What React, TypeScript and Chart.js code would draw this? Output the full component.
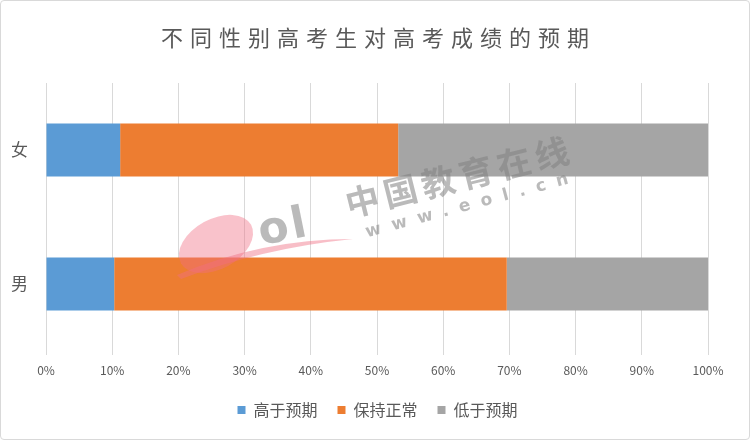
import React, { useEffect, useRef } from "react";
import { Chart, registerables } from "chart.js";

Chart.register(...registerables);

const titleText = "不同性别高考生对高考成绩的预期";
const categories = ["女", "男"];
const seriesNames = ["高于预期", "保持正常", "低于预期"];
const higherValues = [11.2, 10.3];
const normalValues = [42.0, 59.3];
const lowerValues = [46.8, 30.4];
const seriesColors = ["#5B9BD5", "#ED7D31", "#A5A5A5"];
const xTickMax = 100;
const xTickStep = 10;
const watermarkName = "中国教育在线";
const watermarkUrl = "www.eol.cn";

const FONT = "'Noto Sans CJK SC', 'Noto Sans', sans-serif";
const TEXT = "#595959";

const decorPlugin = {
  id: "decor",
  afterLayout(chart: any) {
    if (chart.legend) {
      chart.legend.left += 23;
      chart.legend.right += 23;
    }
  },
  afterDraw(chart: any) {
    const ctx = chart.ctx as CanvasRenderingContext2D;
    // Title with letter spacing
    ctx.save();
    ctx.font = `22px ${FONT}`;
    (ctx as any).letterSpacing = "7px";
    ctx.fillStyle = TEXT;
    ctx.textBaseline = "middle";
    ctx.textAlign = "left";
    const w = ctx.measureText(titleText).width - 7;
    ctx.fillText(titleText, 374 - w / 2, 37);
    ctx.restore();

    // Watermark logo (pink swoosh)
    ctx.save();
    ctx.translate(215, 243);
    ctx.rotate(-0.5);
    ctx.fillStyle = "rgba(240, 110, 130, 0.42)";
    ctx.beginPath();
    ctx.ellipse(0, 0, 40, 25, 0, 0, Math.PI * 2);
    ctx.fill();
    ctx.restore();
    ctx.save();
    ctx.fillStyle = "rgba(240, 110, 130, 0.45)";
    ctx.beginPath();
    ctx.moveTo(176, 274);
    ctx.quadraticCurveTo(260, 238, 352, 238);
    ctx.quadraticCurveTo(262, 247, 180, 278);
    ctx.closePath();
    ctx.fill();
    ctx.restore();
    // "ol" of logo
    ctx.save();
    ctx.translate(283, 228);
    ctx.rotate(-0.2);
    ctx.font = `bold 44px 'DejaVu Sans', sans-serif`;
    (ctx as any).letterSpacing = "3px";
    ctx.fillStyle = "rgba(140, 140, 140, 0.6)";
    ctx.textAlign = "center";
    ctx.textBaseline = "middle";
    ctx.fillText("ol", 0, 0);
    ctx.restore();

    // Watermark text
    ctx.save();
    ctx.translate(456, 176);
    ctx.rotate(-0.245);
    ctx.font = `bold 34px ${FONT}`;
    (ctx as any).letterSpacing = "5px";
    ctx.fillStyle = "rgba(130, 130, 130, 0.55)";
    ctx.textAlign = "left";
    ctx.textBaseline = "middle";
    let tw = ctx.measureText(watermarkName).width - 5;
    ctx.fillText(watermarkName, -tw / 2, 0);
    ctx.restore();

    ctx.save();
    ctx.translate(466, 205);
    ctx.rotate(-0.26);
    ctx.font = `bold 17px 'DejaVu Sans', sans-serif`;
    (ctx as any).letterSpacing = "11px";
    ctx.fillStyle = "rgba(130, 130, 130, 0.55)";
    ctx.textAlign = "left";
    ctx.textBaseline = "middle";
    tw = ctx.measureText(watermarkUrl).width - 11;
    ctx.fillText(watermarkUrl, -tw / 2, 0);
    ctx.restore();
  },
};

export default function App() {
  const ref = useRef<HTMLCanvasElement | null>(null);

  useEffect(() => {
    const canvas = ref.current;
    if (!canvas) return;
    const seriesValues = [higherValues, normalValues, lowerValues];
    const chart = new Chart(canvas, {
      type: "bar",
      data: {
        labels: categories,
        datasets: seriesNames.map((name, i) => ({
          label: name,
          data: seriesValues[i],
          backgroundColor: seriesColors[i],
          borderWidth: 0,
          barPercentage: 0.395,
          categoryPercentage: 1,
        })),
      },
      options: {
        indexAxis: "y",
        responsive: false,
        animation: false,
        devicePixelRatio: 1,
        layout: { padding: { left: 0, right: 41, top: 82, bottom: 11 } },
        scales: {
          x: {
            stacked: true,
            min: 0,
            max: xTickMax,
            ticks: {
              stepSize: xTickStep,
              color: TEXT,
              font: { family: FONT, size: 12 },
              padding: 8,
              callback: (v: any) => v + "%",
            },
            grid: { color: "#D9D9D9", lineWidth: 1, tickLength: 4, drawTicks: true },
            border: { display: false },
            afterFit: (s: any) => {
              s.height = 31;
            },
          },
          y: {
            stacked: true,
            ticks: { color: TEXT, font: { family: FONT, size: 17 }, padding: 10 },
            grid: { display: false },
            border: { display: false },
            afterFit: (s: any) => {
              s.width = 45;
            },
          },
        },
        plugins: {
          title: { display: false },
          legend: {
            position: "bottom",
            labels: {
              color: TEXT,
              font: { family: FONT, size: 16 },
              usePointStyle: true,
              pointStyle: "rect",
              boxWidth: 8,
              boxHeight: 8,
              padding: 20,
            },
          },
          tooltip: { enabled: false },
        },
      },
      plugins: [decorPlugin],
    });
    return () => chart.destroy();
  }, []);

  return (
    <div
      style={{
        position: "absolute",
        left: 0,
        top: 0,
        width: 750,
        height: 440,
        boxSizing: "border-box",
        border: "1px solid #D9D9D9",
        borderRadius: 4,
        background: "#fff",
        overflow: "hidden",
      }}
    >
      <canvas ref={ref} width={748} height={438} style={{ display: "block" }} />
    </div>
  );
}
